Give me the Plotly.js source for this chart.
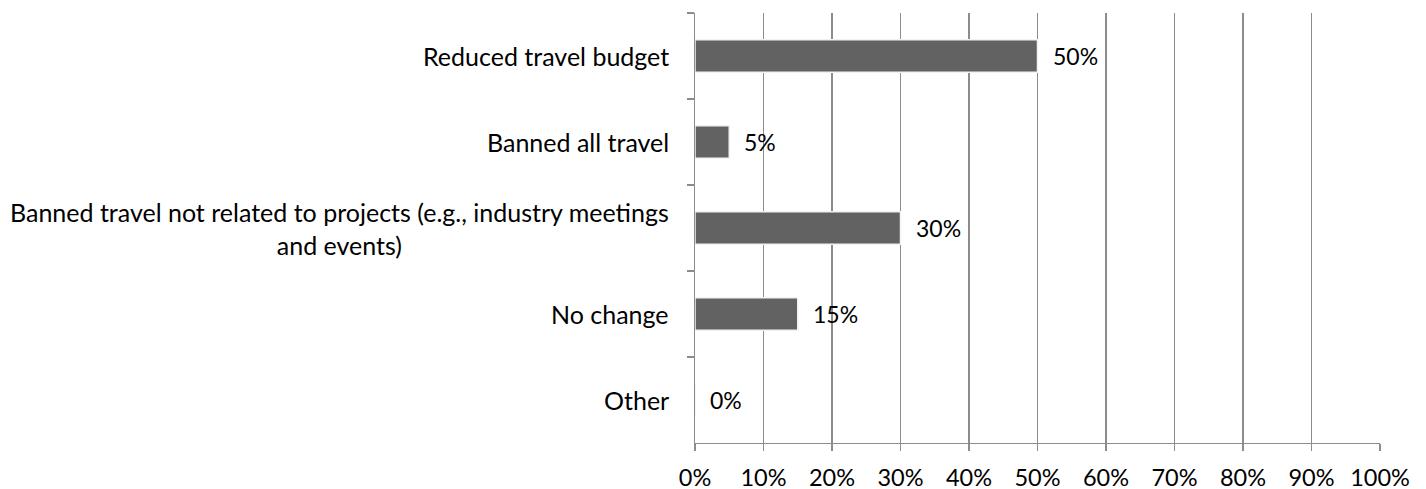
<!DOCTYPE html>
<html>
<head>
<meta charset="utf-8">
<script src="https://cdn.plot.ly/plotly-3.0.1.min.js"></script>
<style>html,body{margin:0;padding:0;background:#fff;}#chart{width:1426px;height:489px;}</style>
</head>
<body>
<div id="chart"></div>
<script>
const categories = [
  "Reduced travel budget",
  "Banned all travel",
  "Banned travel not related to projects (e.g., industry meetings<br>and events)",
  "No change",
  "Other"
];
const values = [0.50, 0.05, 0.30, 0.15, 0.00];
const xTickValues = [0, 0.1, 0.2, 0.3, 0.4, 0.5, 0.6, 0.7, 0.8, 0.9, 1.0];
const xTickLabels = ["0%", "10%", "20%", "30%", "40%", "50%", "60%", "70%", "80%", "90%", "100%"];

const FONT = "Lato, 'Open Sans', sans-serif";
const GRID = "#8c8c8c";

const trace = {
  type: "bar",
  orientation: "h",
  x: values,
  y: categories,
  width: 0.38,
  marker: { color: "#626262", line: { color: "#f2f2f2", width: 1.5 } },
  hoverinfo: "skip"
};

const annotations = [];
categories.forEach((c, i) => {
  annotations.push({
    x: 0, xref: "paper", y: c, yref: "y",
    text: c, showarrow: false, xanchor: "right", yanchor: "middle",
    align: "center", xshift: -24,
    font: { family: FONT, size: 25, color: "#000" }
  });
  annotations.push({
    x: values[i], xref: "x", y: c, yref: "y",
    text: Math.round(values[i] * 100) + "%", showarrow: false,
    xanchor: "left", yanchor: "middle", xshift: 13,
    font: { family: FONT, size: 23, color: "#000" }
  });
});

const layout = {
  width: 1426, height: 489,
  margin: { l: 695, r: 46, t: 13, b: 46, pad: 0 },
  paper_bgcolor: "#fff", plot_bgcolor: "#fff",
  showlegend: false,
  bargap: 0.62,
  xaxis: {
    range: [0, 1], tickvals: xTickValues, ticktext: xTickLabels,
    showgrid: true, gridcolor: GRID, gridwidth: 1.3,
    showline: true, linecolor: GRID, linewidth: 1.3,
    ticks: "outside", ticklen: 7, tickcolor: GRID, tickwidth: 1.3,
    ticklabelstandoff: 6,
    zeroline: false, fixedrange: true,
    tickfont: { family: FONT, size: 23.5, color: "#000" }
  },
  yaxis: {
    type: "category", autorange: false, range: [4.5, -0.5],
    showticklabels: false, tickson: "boundaries",
    ticks: "outside", ticklen: 7, tickcolor: GRID, tickwidth: 1.3,
    showline: true, linecolor: GRID, linewidth: 1.3,
    showgrid: false, zeroline: false, fixedrange: true
  },
  annotations: annotations
};

Plotly.newPlot("chart", [trace], layout, { staticPlot: true, displayModeBar: false });
</script>
</body>
</html>
